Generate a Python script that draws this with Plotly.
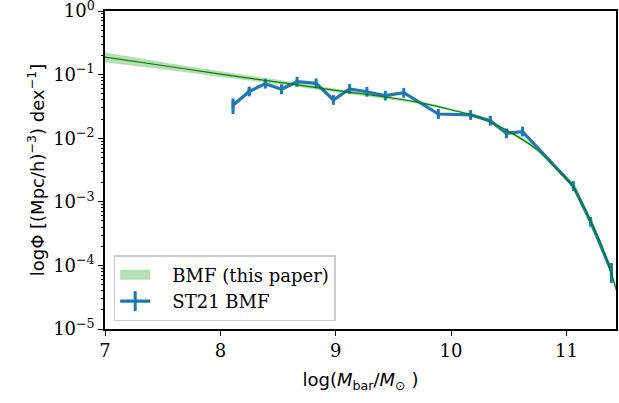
import plotly.graph_objects as go

# BMF model curve (this paper)
bmf_logm = [7.0, 7.5, 8.0, 8.5, 9.0, 9.5, 9.75, 10.0, 10.25, 10.5, 10.75, 10.9, 11.05, 11.2, 11.3, 11.4, 11.45]
bmf_phi = [0.188, 0.139, 0.102, 0.076, 0.0565, 0.0425, 0.0355, 0.028, 0.021, 0.0128, 0.0065,
           0.0035, 0.0018, 0.00054, 0.00022, 6.5e-5, 3.2e-5]
bmf_lo = [0.155, 0.121, 0.092, 0.070, 0.053, 0.040, 0.0338, 0.0267, 0.0200, 0.0121, 0.0061,
          0.0033, 0.00168, 0.000505, 0.000205, 6.0e-5, 2.9e-5]
bmf_hi = [0.222, 0.157, 0.113, 0.083, 0.060, 0.0447, 0.0373, 0.0294, 0.0221, 0.0135, 0.0069,
          0.0037, 0.00193, 0.000578, 0.000236, 7.0e-5, 3.5e-5]

# ST21 BMF points with errors
st21_logm = [8.11, 8.25, 8.39, 8.53, 8.665, 8.83, 8.98, 9.12, 9.27, 9.43, 9.59, 9.89, 10.17,
             10.34, 10.48, 10.62, 11.06, 11.21, 11.39]
st21_phi = [0.033, 0.0543, 0.072, 0.0587, 0.0773, 0.073, 0.0399, 0.0594, 0.0538, 0.0466, 0.0519,
            0.024, 0.0232, 0.0188, 0.0119, 0.0127, 0.00177, 0.000486, 8.1e-5]
st21_err = [0.009, 0.0065, 0.008, 0.004, 0.004, 0.004, 0.002, 0.002, 0.002, 0.001, 0.001,
            0.0008, 0.0006, 0.0005, 0.0004, 0.0004, 0.0001, 5e-5, 2.8e-5]

ytick_vals = [1, 0.1, 0.01, 0.001, 1e-4, 1e-5]
ytick_text = ["10<sup>0</sup>", "10<sup>−1</sup>", "10<sup>−2</sup>", "10<sup>−3</sup>",
              "10<sup>−4</sup>", "10<sup>−5</sup>"]

SERIF = '"DejaVu Serif", serif'
SANS = '"DejaVu Sans", sans-serif'
FS = 18
BAND = "rgba(44,160,44,0.35)"
BLUE = "#1f77b4"
PAD = "\u00a0\u00a0\u00a0"

fig = go.Figure()
fig.add_trace(go.Scatter(x=bmf_logm, y=bmf_lo, mode="lines", line=dict(width=0, shape="spline"),
                         showlegend=False, hoverinfo="skip"))
fig.add_trace(go.Scatter(x=bmf_logm, y=bmf_hi, mode="lines", line=dict(width=0, shape="spline"),
                         fill="tonexty", fillcolor=BAND, showlegend=False))
# legend proxies (fat patch / errorbar cross like matplotlib's)
fig.add_trace(go.Scatter(x=[None], y=[None], mode="lines", line=dict(color=BAND, width=16),
                         name=PAD + "BMF (this paper)"))
fig.add_trace(go.Scatter(x=[None], y=[None], mode="lines+markers", line=dict(color=BLUE, width=3.2),
                         marker=dict(symbol="line-ns-open", size=14, line=dict(color=BLUE, width=3)),
                         name=PAD + "ST21 BMF"))
# centre line sits on an overlay axis that carries the minor ticks
fig.add_trace(go.Scatter(x=bmf_logm, y=bmf_phi, mode="lines", yaxis="y2",
                         line=dict(color="#008000", width=1.2, shape="spline"), showlegend=False))
fig.add_trace(go.Scatter(x=st21_logm, y=st21_phi, mode="lines+markers", showlegend=False,
                         line=dict(color=BLUE, width=3.2),
                         marker=dict(symbol="line-ns-open", size=7, line=dict(color=BLUE, width=3)),
                         error_y=dict(type="data", array=st21_err, color=BLUE,
                                      thickness=3, width=0)))

fig.update_xaxes(range=[7, 11.43], tickvals=[7, 8, 9, 10, 11], ticks="outside", ticklen=5,
                 tickwidth=1.3, tickcolor="black", showline=True, mirror=True, linecolor="black",
                 linewidth=1.5, showgrid=False, zeroline=False, automargin=False,
                 tickfont=dict(family=SERIF, size=FS, color="black"),
                 title=dict(text="log(<i>M</i><sub>bar</sub>/<i>M</i><sub>⊙</sub> )",
                            font=dict(family=SANS, size=FS, color="black"), standoff=13))
fig.update_yaxes(type="log", range=[-5, 0], tickvals=ytick_vals, ticktext=ytick_text,
                 ticks="outside", ticklen=5, tickwidth=1.3, tickcolor="black",
                 showline=True, mirror=True, linecolor="black", linewidth=1.5,
                 showgrid=False, zeroline=False, automargin=False, ticklabeloverflow="allow",
                 tickfont=dict(family=SERIF, size=FS, color="black"),
                 title=dict(text="logΦ [(Mpc/h)<sup>−3</sup>) dex<sup>−1</sup>]",
                            font=dict(family=SANS, size=FS, color="black"), standoff=4))

fig.update_layout(
    width=619, height=403,
    margin=dict(l=105, r=3, t=11, b=74),
    plot_bgcolor="white", paper_bgcolor="white",
    yaxis2=dict(type="log", range=[-5, 0], overlaying="y", side="left", dtick="D1",
                ticks="outside", ticklen=3, tickwidth=1, tickcolor="black",
                showticklabels=False, showgrid=False, zeroline=False, showline=False),
    legend=dict(x=0.017, y=0.025, xanchor="left", yanchor="bottom", traceorder="normal",
                font=dict(family=SERIF, size=FS, color="black"),
                bordercolor="#cccccc", borderwidth=1.5, bgcolor="rgba(255,255,255,0.8)"),
)

fig.write_html("out.html", config={"responsive": False, "displayModeBar": False},
               post_script="document.body.style.margin='0';document.body.style.overflow='hidden';")
